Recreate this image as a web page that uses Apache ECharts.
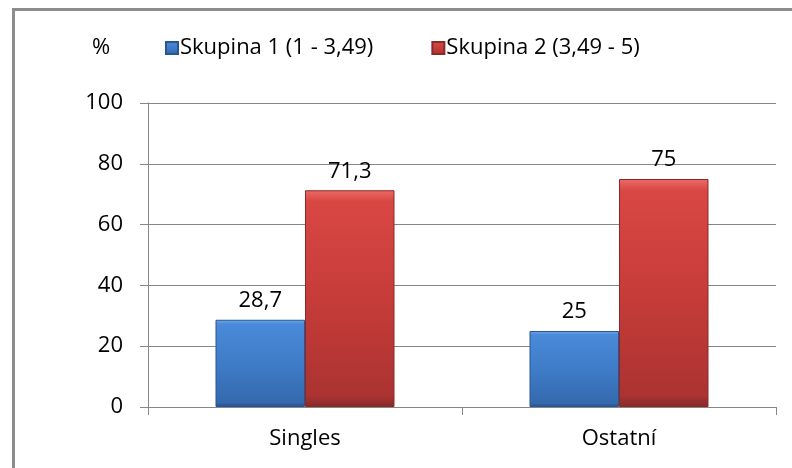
<!DOCTYPE html>
<html>
<head>
<meta charset="utf-8">
<script src="https://cdn.jsdelivr.net/npm/echarts@6/dist/echarts.min.js"></script>
<style>
html,body{margin:0;padding:0;background:#fff;}
#wrap{position:absolute;left:12px;top:8px;width:800px;height:480px;border:3px solid #8c8c8c;box-sizing:border-box;}
#chart{position:absolute;left:0;top:0;width:792px;height:468px;}
</style>
</head>
<body>
<div id="wrap"></div>
<div id="chart"></div>
<script>
const categories = ['Singles', 'Ostatní'];
const seriesNames = ['Skupina 1 (1 - 3,49)', 'Skupina 2 (3,49 - 5)'];
const group1 = [28.7, 25];
const group2 = [71.3, 75];
const yTicks = [0, 20, 40, 60, 80, 100];

const FONT = 'Open Sans';
const FS = 22;
function grad(c0, c1, c2, c3, c4) {
  return new echarts.graphic.LinearGradient(0, 0, 0, 1, [
    {offset: 0, color: c0},
    {offset: 0.05, color: c1},
    {offset: 0.5, color: c2},
    {offset: 0.95, color: c3},
    {offset: 1, color: c4}
  ]);
}
const blue = grad('#6fa8ec', '#4a8ad8', '#3f7cc8', '#3469ad', '#274f86');
const red = grad('#ec6a66', '#d94743', '#c63c39', '#ab3331', '#84292a');
const fmt = p => String(p.value).replace('.', ',');

const chart = echarts.init(document.getElementById('chart'), null, {renderer: 'canvas'});
chart.setOption({
  animation: false,
  backgroundColor: 'transparent',
  title: {
    text: '%', left: 92, top: 37, padding: 0,
    textStyle: {fontFamily: FONT, fontSize: FS, fontWeight: 'normal', color: '#000'}
  },
  legend: {
    left: 160, top: 37, itemWidth: 12, itemHeight: 12, itemGap: 58, padding: [0, 5],
    icon: 'rect',
    textStyle: {fontFamily: FONT, fontSize: FS, color: '#000', padding: [0, 0, 0, -3]},
    data: seriesNames
  },
  grid: {left: 148, right: 16, top: 103, bottom: 61},
  xAxis: {
    type: 'category', data: categories,
    axisLine: {lineStyle: {color: '#868686', width: 1}},
    axisTick: {show: true, length: 8, lineStyle: {color: '#868686'}},
    axisLabel: {fontFamily: FONT, fontSize: FS, color: '#000', margin: 21}
  },
  yAxis: {
    type: 'value', min: yTicks[0], max: yTicks[yTicks.length - 1], interval: 20,
    axisLine: {show: true, lineStyle: {color: '#868686'}},
    axisTick: {show: true, length: 8, lineStyle: {color: '#868686'}},
    splitLine: {lineStyle: {color: '#868686', width: 1}},
    axisLabel: {fontFamily: FONT, fontSize: FS, color: '#000', margin: 25}
  },
  series: [
    {
      name: seriesNames[0], type: 'bar', data: group1,
      barGap: '0%', barCategoryGap: '43%',
      itemStyle: {color: blue, borderColor: '#2a5590', borderWidth: 1},
      label: {show: true, position: 'top', distance: 8, formatter: fmt,
        fontFamily: FONT, fontSize: FS, color: '#000'}
    },
    {
      name: seriesNames[1], type: 'bar', data: group2,
      barGap: '0%', barCategoryGap: '43%',
      itemStyle: {color: red, borderColor: '#8a2a28', borderWidth: 1},
      label: {show: true, position: 'top', distance: 8, formatter: fmt,
        fontFamily: FONT, fontSize: FS, color: '#000'}
    }
  ]
});
</script>
</body>
</html>
